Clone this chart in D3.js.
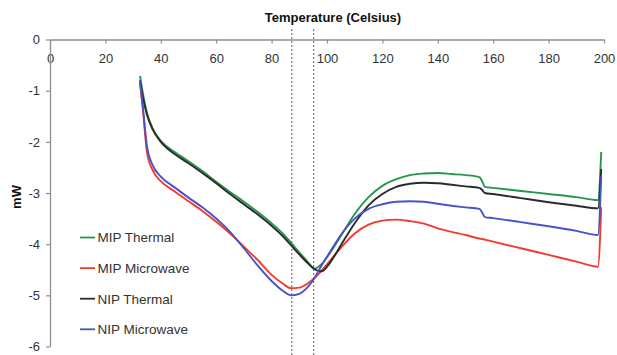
<!DOCTYPE html>
<html>
<head>
<meta charset="utf-8">
<script src="https://cdn.jsdelivr.net/npm/d3@7"></script>
<style>
  html, body { margin: 0; padding: 0; background: #fff; }
  svg { display: block; font-family: Arial, "Liberation Sans", sans-serif; }
</style>
</head>
<body>
<svg id="chart" width="617" height="355"></svg>
<script>
// DSC heating scans: heat flow (mW) versus temperature (°C)
const temperatures = [32.5, 33.5, 35, 37, 40, 45, 50, 55, 60, 65, 70, 75, 80, 84, 87, 90, 93, 95.5, 98, 101,
  105, 110, 115, 120, 125, 130, 135, 140, 145, 150, 155, 156, 157, 160, 170, 180, 190, 197.8, 199];

const mipThermal = [-0.71, -1.04, -1.43, -1.73, -1.98, -2.20, -2.38, -2.57, -2.78, -2.98, -3.17, -3.37, -3.59, -3.79, -3.97, -4.16, -4.34, -4.48, -4.39, -4.18,
  -3.84, -3.41, -3.08, -2.86, -2.73, -2.65, -2.62, -2.61, -2.63, -2.65, -2.69, -2.77, -2.88, -2.90, -2.96, -3.02, -3.08, -3.14, -2.20];

const mipMicrowave = [-0.86, -1.35, -2.20, -2.55, -2.77, -2.97, -3.16, -3.35, -3.56, -3.79, -4.05, -4.31, -4.60, -4.77, -4.86, -4.85, -4.77, -4.66, -4.52, -4.33,
  -4.07, -3.79, -3.62, -3.54, -3.52, -3.55, -3.60, -3.69, -3.76, -3.82, -3.89, -3.90, -3.91, -3.95, -4.08, -4.21, -4.34, -4.44, -3.28];

const nipThermal = [-0.80, -1.12, -1.47, -1.75, -2.00, -2.24, -2.42, -2.61, -2.81, -3.02, -3.22, -3.42, -3.64, -3.84, -4.02, -4.20, -4.37, -4.49, -4.53, -4.37,
  -4.02, -3.59, -3.24, -3.02, -2.88, -2.82, -2.80, -2.81, -2.84, -2.87, -2.90, -2.94, -3.00, -3.02, -3.10, -3.18, -3.25, -3.30, -2.53];

const nipMicrowave = [-0.82, -1.30, -2.08, -2.45, -2.68, -2.89, -3.09, -3.28, -3.50, -3.76, -4.08, -4.42, -4.72, -4.91, -5.00, -4.97, -4.84, -4.66, -4.42, -4.16,
  -3.82, -3.50, -3.31, -3.22, -3.17, -3.16, -3.17, -3.21, -3.25, -3.28, -3.31, -3.38, -3.47, -3.49, -3.57, -3.65, -3.74, -3.82, -2.67];

const seriesNames = ["MIP Thermal", "MIP Microwave", "NIP Thermal", "NIP Microwave"];
const seriesColors = ["#24984a", "#f23a2e", "#2b2b2b", "#4a52c4"];
const seriesValues = [mipThermal, mipMicrowave, nipThermal, nipMicrowave];

const xTicks = [0, 20, 40, 60, 80, 100, 120, 140, 160, 180, 200];
const yTicks = [0, -1, -2, -3, -4, -5, -6];
const markerTemps = [87.3, 95.2];

const svg = d3.select("#chart");

const x = d3.scaleLinear().domain([0, 200]).range([50, 604]);
const y = d3.scaleLinear().domain([0, -6]).range([39.5, 346.5]);

// axes
const xAxis = svg.append("g")
  .attr("transform", `translate(0,${y(0)})`)
  .call(d3.axisBottom(x).tickValues(xTicks).tickSize(4).tickSizeOuter(0).tickPadding(10).tickFormat(d => String(d)));

const yAxis = svg.append("g")
  .attr("transform", `translate(${x(0)},0)`)
  .call(d3.axisLeft(y).tickValues(yTicks).tickSize(4).tickSizeOuter(0).tickPadding(6).tickFormat(d => String(d)));

[xAxis, yAxis].forEach(g => {
  g.selectAll("path.domain").attr("stroke", "#8f8f8f").attr("stroke-width", 1.3);
  g.selectAll(".tick line").attr("stroke", "#8f8f8f").attr("stroke-width", 1.2);
  g.selectAll(".tick text").attr("fill", "#333").style("font-size", "13px")
    .style("font-family", "Arial, 'Liberation Sans', sans-serif");
});

// vertical dashed reference lines
svg.append("g").selectAll("line")
  .data(markerTemps)
  .join("line")
  .attr("x1", d => x(d)).attr("x2", d => x(d))
  .attr("y1", 29).attr("y2", 355)
  .attr("stroke", "#5a5a5a")
  .attr("stroke-width", 1)
  .attr("stroke-dasharray", "2,2");

// curves
const line = d3.line()
  .x(d => x(d[0]))
  .y(d => y(d[1]))
  .curve(d3.curveMonotoneX);

svg.append("g").selectAll("path")
  .data(seriesValues)
  .join("path")
  .attr("d", vals => line(temperatures.map((t, i) => [t, vals[i]])))
  .attr("fill", "none")
  .attr("stroke", (d, i) => seriesColors[i])
  .attr("stroke-width", 1.9)
  .attr("stroke-linejoin", "round");

// titles
svg.append("text")
  .attr("x", 333).attr("y", 21.5)
  .attr("text-anchor", "middle")
  .attr("fill", "#111")
  .style("font-size", "13px").style("font-weight", "bold")
  .text("Temperature (Celsius)");

svg.append("text")
  .attr("transform", "translate(21,197) rotate(-90)")
  .attr("text-anchor", "middle")
  .attr("fill", "#111")
  .style("font-size", "13px").style("font-weight", "bold")
  .text("mW");

// legend
const legend = svg.append("g").selectAll("g")
  .data(seriesNames)
  .join("g")
  .attr("transform", (d, i) => `translate(80,${237.5 + i * 30.6})`);

legend.append("line")
  .attr("x1", 0).attr("x2", 15)
  .attr("stroke", (d, i) => seriesColors[i])
  .attr("stroke-width", 1.8);

legend.append("text")
  .attr("x", 17.5).attr("y", 0).attr("dy", "0.36em")
  .attr("fill", "#333")
  .style("font-size", "13.5px")
  .text(d => d);
</script>
</body>
</html>
